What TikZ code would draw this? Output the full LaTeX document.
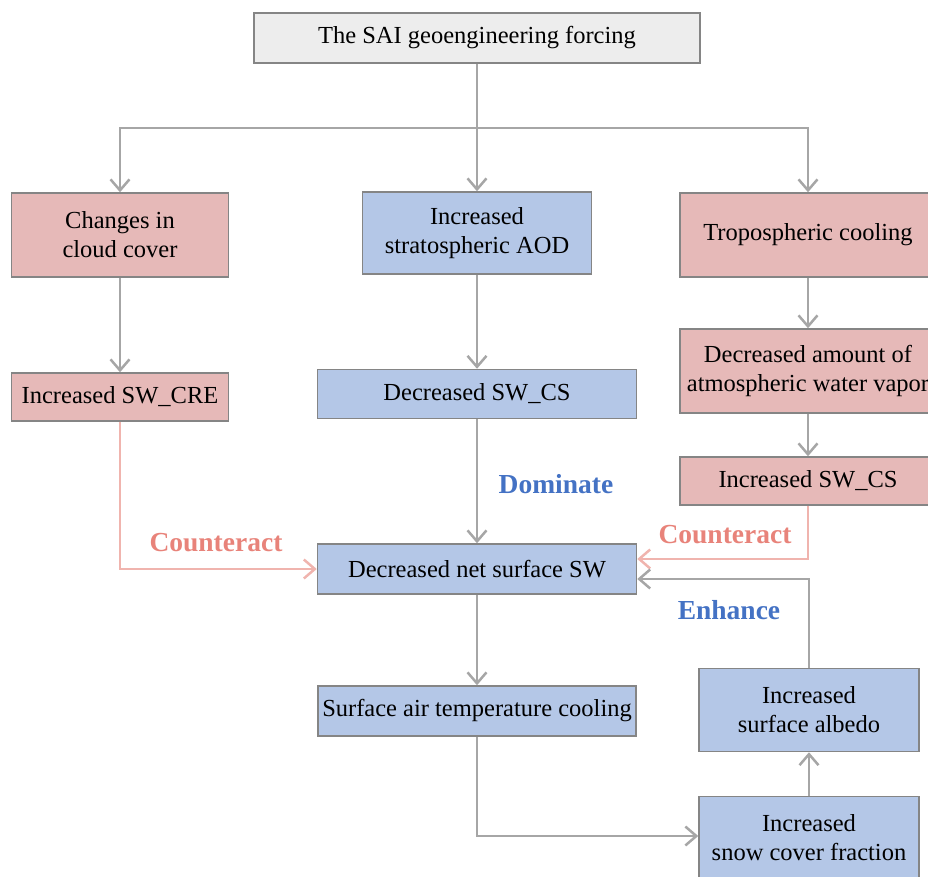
\documentclass[tikz,border=0pt]{standalone}
\usepackage{fontspec}
\setmainfont{Liberation Serif}
\usepackage{xcolor}
\definecolor{cBorder}{HTML}{858585}
\definecolor{cTop}{HTML}{EDEDED}
\definecolor{cRed}{HTML}{E6B9B8}
\definecolor{cBlue}{HTML}{B4C7E7}
\definecolor{cLine}{HTML}{A6A6A6}
\definecolor{cPinkLine}{HTML}{F0B4AE}
\definecolor{cPinkText}{HTML}{E8837A}
\definecolor{cBlueText}{HTML}{4472C4}
\usepackage{tikz}
\usetikzlibrary{positioning,arrows.meta}
\tikzset{
  node-box/.style={draw=cBorder,line width=1.5pt,inner sep=0pt,align=center,
    font=\fontsize{24.5}{29}\selectfont},
  node-top/.style={fill=cTop},
  node-red/.style={fill=cRed},
  node-blue/.style={fill=cBlue},
  arrow/.style={-{Straight Barb[length=11pt,width=19pt,line width=2.5pt]},line width=2.5pt,draw=cLine},
  arrow-pink/.style={-{Straight Barb[length=11pt,width=19pt,line width=2.5pt]},line width=2.5pt,draw=cPinkLine},
  line-plain/.style={line width=2.5pt,draw=cLine},
  label-pink/.style={font=\fontsize{27.5}{30}\selectfont\bfseries,text=cPinkText,inner sep=0pt},
  label-blue/.style={font=\fontsize{27.5}{30}\selectfont\bfseries,text=cBlueText,inner sep=0pt},
}

\begin{document}
\begin{tikzpicture}[x=1pt,y=-1pt]
  \useasboundingbox (0,0) rectangle (928,877);
  % boxes
  \node[node-box,node-top,minimum width=446pt,minimum height=50pt] (forcing) at (477,38) {The SAI geoengineering forcing};
  \node[node-box,node-red,minimum width=217pt,minimum height=84pt] (cloud) at (120,235) {Changes in\\cloud cover};
  \node[node-box,node-blue,minimum width=229pt,minimum height=82pt] (aod) at (477,233) {Increased\\stratospheric AOD};
  \node[node-box,node-red,minimum width=256pt,minimum height=84pt] (trop) at (808,235) {Tropospheric cooling};
  \node[node-box,node-red,minimum width=256pt,minimum height=84pt] (vapor) at (808,371) {Decreased amount of\\atmospheric water vapor};
  \node[node-box,node-red,minimum width=256pt,minimum height=48pt] (swcsr) at (808,481) {Increased SW\_CS};
  \node[node-box,node-red,minimum width=217pt,minimum height=48pt] (swcre) at (120,397) {Increased SW\_CRE};
  \node[node-box,node-blue,minimum width=319pt,minimum height=49pt] (swcs) at (477,394) {Decreased SW\_CS};
  \node[node-box,node-blue,minimum width=319pt,minimum height=50pt] (netsw) at (477,569) {Decreased net surface SW};
  \node[node-box,node-blue,minimum width=318pt,minimum height=50pt] (sat) at (477,711) {Surface air temperature cooling};
  \node[node-box,node-blue,minimum width=220pt,minimum height=83pt] (albedo) at (809,710) {Increased\\surface albedo};
  \node[node-box,node-blue,minimum width=220pt,minimum height=83pt] (snow) at (809,838) {Increased\\snow cover fraction};
  \coordinate (split) at (477,128);
  % connectors
  \draw[arrow] (forcing) -- (aod);
  \draw[arrow] (split) -| (cloud.north);
  \draw[arrow] (split) -| (trop.north);
  \draw[arrow] (cloud) -- (swcre);
  \draw[arrow] (aod) -- (swcs);
  \draw[arrow] (trop) -- (vapor);
  \draw[arrow] (vapor) -- (swcsr);
  \draw[arrow] (swcs) -- (netsw);
  \draw[arrow-pink] (swcre.south) |- (netsw.west);
  \draw[arrow-pink] (swcsr.south) |- ([yshift=10pt]netsw.east);
  \draw[arrow] (albedo.north) |- ([yshift=-10pt]netsw.east);
  \draw[arrow] (netsw) -- (sat);
  \draw[arrow] (sat.south) |- ([yshift=2pt]snow.west);
  \draw[arrow] (snow) -- (albedo);
  % labels
  \node[label-blue] (dominate) at (556,484) {Dominate};
  \node[label-pink] (counterL) at (216,543) {Counteract};
  \node[label-pink] (counterR) at (725,535) {Counteract};
  \node[label-blue] (enhance) at (729,610) {Enhance};
\end{tikzpicture}
\end{document}
